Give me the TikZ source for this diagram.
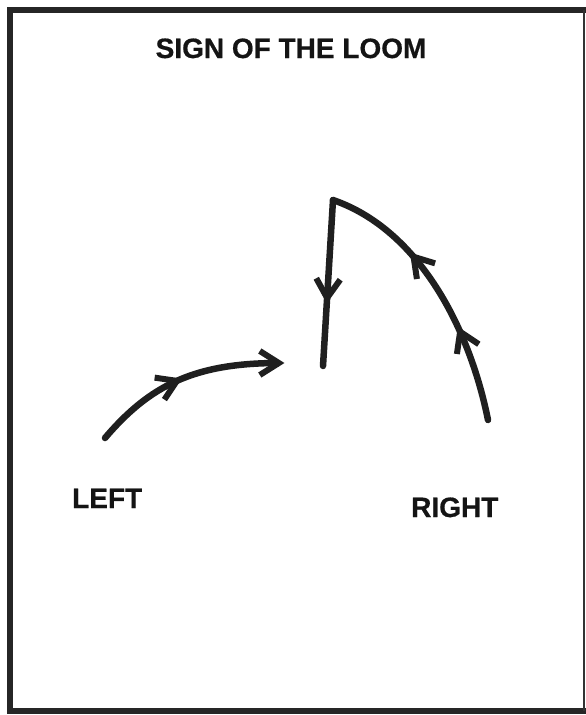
\documentclass[tikz,border=0pt]{standalone}
\usepackage{fontspec}
\setmainfont{Liberation Sans}
\newfontfamily\lblfont[FakeBold=0.6]{Liberation Sans Bold}
\usetikzlibrary{decorations.markings}
\newcommand{\chevron}{\draw[line width=6pt, draw=black!88, line cap=butt, line join=miter] (-19pt,-12pt) -- (0pt,0pt) -- (-19pt,12pt);}
\begin{document}
\begin{tikzpicture}[x=1pt,y=-1pt,
  lbl/.style={font=\lblfont\fontsize{28}{30}\selectfont, inner sep=0pt, text=black!92},
  stroke/.style={line width=6.5pt, draw=black!88, line cap=round, line join=round},
  markone/.style={postaction={decorate}, decoration={markings,
     mark=at position #1 with {\chevron}}},
  marktwo/.style 2 args={postaction={decorate}, decoration={markings,
     mark=at position #1 with {\chevron},
     mark=at position #2 with {\chevron}}}
]
\useasboundingbox (0,0) rectangle (586,715);
\fill[white] (0,0) rectangle (586,715);
% frame
\draw[line width=6pt, draw=black!85] (586,10) -- (10,10) -- (10,711) -- (586,711);
\draw[line width=2pt, draw=black!80] (584,10) -- (584,711);
% labels
\node[lbl, anchor=base] (title) at (291,58) {SIGN OF THE LOOM};
\node[lbl, anchor=base west] (left) at (72,508) {LEFT};
\node[lbl, anchor=base west] (right) at (411,517) {RIGHT};
% coordinates
\coordinate (ls) at (105,438);
\coordinate (le) at (279,363);
\coordinate (rs) at (488,420);
\coordinate (pk) at (333,200);
\coordinate (re) at (323,366);
% left curve
\draw[stroke, line cap=butt, marktwo={0.47}{0.999}] (ls) .. controls (150,385) and (195,363) .. (le);
\fill[black!88] (ls) circle (3.25pt);
% right curve up to peak
\draw[stroke, marktwo={0.33}{0.645}] (rs) .. controls (470,330) and (420,230) .. (pk);
% down stroke
\draw[stroke, markone=0.59] (pk) -- (re);
\end{tikzpicture}
\end{document}
